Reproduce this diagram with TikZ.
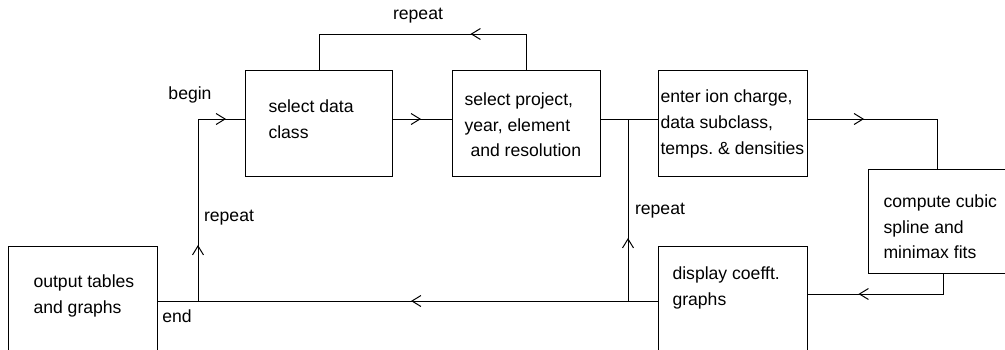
\documentclass[tikz,border=0pt]{standalone}
\usepackage{fontspec}
\setmainfont{Liberation Sans}
\usetikzlibrary{arrows.meta}
\usetikzlibrary{decorations.markings}

\begin{document}
\begin{tikzpicture}[x=0.5pt, y=-0.5pt, line width=0.5pt,
  >={Straight Barb[length=4.5pt,width=5.5pt]},
  box/.style={draw, rectangle, inner sep=0pt, anchor=north west},
  txt/.style={align=left, inner sep=0pt, anchor=west, font=\fontsize{8.8}{12.8}\selectfont},
  lbl/.style={inner sep=0pt, font=\fontsize{8.8}{12.8}\selectfont},
  mid/.style={postaction={decorate, decoration={markings, mark=at position #1 with {\arrow{>}}}}},
  midtwo/.style 2 args={postaction={decorate, decoration={markings,
    mark=at position #1 with {\arrow{>}}, mark=at position #2 with {\arrow{>}}}}}]

\useasboundingbox (0,0) rectangle (1005,349);
\clip (0,0) rectangle (1005,349);

\coordinate (row1) at (0,119);
\coordinate (row2) at (0,301);
\coordinate (row3) at (0,294);
\coordinate (col1) at (198,0);
\coordinate (col2) at (628,0);
\coordinate (loop) at (0,34);

% boxes
\node[box, minimum width=73.5pt, minimum height=53pt] (dataclass) at (245,70) {};
\node[box, minimum width=74pt, minimum height=53pt] (project) at (452,70) {};
\node[box, minimum width=74.5pt, minimum height=53pt] (ions) at (658,70) {};
\node[box, minimum width=69pt, minimum height=52pt] (fits) at (868,169) {};
\node[box, minimum width=74.5pt, minimum height=60pt] (coefft) at (658,246) {};
\node[box, minimum width=74.5pt, minimum height=60pt] (output) at (8,246) {};

\node[txt] (dataclass-t) at (268,119.5) {select data\\class};
\node[txt] (project-t) at (464,125) {select project,\\year, element\\\hspace*{3pt}and resolution};
\node[txt] (ions-t) at (660,124) {enter ion charge,\\data subclass,\\temps.\ \& densities};
\node[txt] (fits-t) at (883,227) {compute cubic\\spline and\\minimax fits};
\node[txt] (coefft-t) at (672,288) {display coefft.\\graphs};
\node[txt] (output-t) at (33,296) {output tables\\and graphs};

% flow lines
\draw[mid=46pt] (project.north) |- (loop -| dataclass.north) -- (dataclass.north);
\draw[mid=14pt] (dataclass.east |- row1) -- (project.west |- row1);
\draw (project.east |- row1) -- (ions.west |- row1);
\draw[mid=28pt] (ions.east |- row1) -| (fits.north);
\draw[mid=52.5pt] ([xshift=3pt]fits.south) |- (coefft.east |- row3);
\draw[mid=123.5pt] (coefft.west |- row2) -- (output.east |- row2);
\draw[midtwo={28pt}{105pt}] (col1 |- row2) -- (col1 |- row1) -- (dataclass.west |- row1);
\draw[mid=31.5pt] (col2 |- row2) -- (col2 |- row1);

\node[lbl] (repeat-top) at (418,16) {repeat};
\node[lbl] (begin) at (190,95) {begin};
\node[lbl] (repeat-left) at (229,218) {repeat};
\node[lbl] (repeat-mid) at (660,211) {repeat};
\node[lbl] (end) at (177,316) {end};

\end{tikzpicture}
\end{document}
